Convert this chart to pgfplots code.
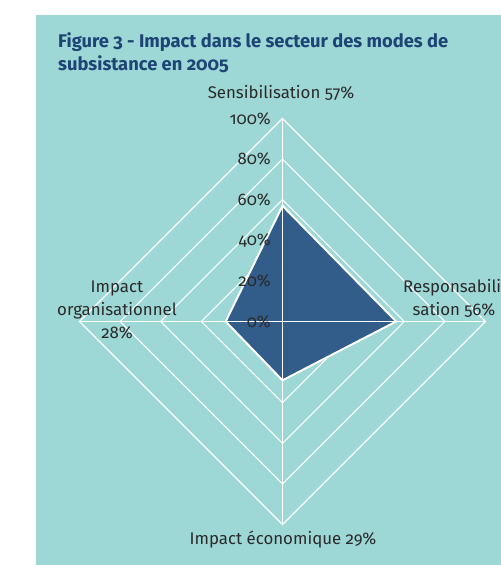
\documentclass[border=0pt]{standalone}
\usepackage{pgfplots}
\pgfplotsset{compat=1.18}
\usepackage{fontspec}
\setmainfont{Fira Sans}[Numbers=OldStyle]
\definecolor{bgteal}{HTML}{9DD7D6}
\definecolor{fillblue}{HTML}{325C8A}
\definecolor{titleblue}{HTML}{1D4474}
\definecolor{txt}{HTML}{2A2A2A}
\begin{document}
\begin{tikzpicture}[x=1bp,y=1bp]
\useasboundingbox (0,0) rectangle (501,565);
\fill[white] (0,0) rectangle (501,565);
\fill[bgteal] (36,0) rectangle (501,550);
\begin{axis}[at={(282.5bp,243.5bp)}, anchor=center, scale only axis,
  width=406bp, height=406bp, xmin=-100, xmax=100, ymin=-100, ymax=100,
  enlargelimits=false, hide axis, clip=false]
% grid diamonds
\foreach \r in {20,40,60,80,100}{
  \edef\temp{\noexpand\addplot[white, line width=1.1bp, line join=miter] coordinates {(0,\r) (\r,0) (0,-\r) (-\r,0)} -- cycle;}
  \temp
}
% data
\addplot[fill=fillblue, draw=white, line width=2bp, line join=miter] coordinates {(0,57) (56,0) (0,-29) (-28,0)} -- cycle;
% spokes
\addplot[white, line width=1.3bp] coordinates {(0,-100) (0,100)};
\addplot[white, line width=1.3bp] coordinates {(-100,0) (100,0)};
% tick labels
\foreach \r in {0,20,40,60,80,100}{
  \edef\temp{\noexpand\node[anchor=east, inner sep=0pt, text=txt, font=\noexpand\fontsize{16.8}{20}\noexpand\selectfont] at (axis cs:-5.7,\r) {\r\noexpand\%};}
  \temp
}
\end{axis}
\begin{scope}[every node/.style={inner sep=0pt, text=txt, font=\fontsize{16.9}{20}\selectfont}]
\node[anchor=base] at (281,466) {Sensibilisation 57\%};
\node[anchor=base] at (117,272) {Impact};
\node[anchor=base] at (117,249) {organisationnel};
\node[anchor=base] at (117,226) {28\%};
\node[anchor=base west] at (403,272) {Responsabili-};
\node[anchor=base] at (454,249) {sation 56\%};
\node[anchor=base] at (283,20) {Impact économique 29\%};
\end{scope}
\node[anchor=base west, inner sep=0pt, text=titleblue, font=\bfseries\fontsize{18.4}{22}\selectfont] at (58,517) {Figure 3 - Impact dans le secteur des modes de};
\node[anchor=base west, inner sep=0pt, text=titleblue, font=\bfseries\fontsize{18.4}{22}\selectfont] at (58,494) {subsistance en 2005};
\end{tikzpicture}
\end{document}
